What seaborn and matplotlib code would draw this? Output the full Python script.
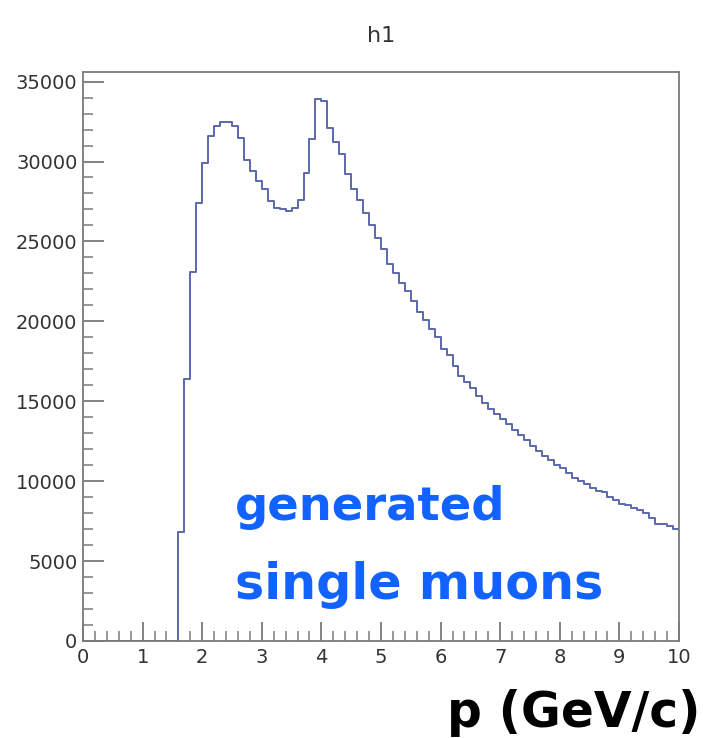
import numpy as np
import pandas as pd
import matplotlib
matplotlib.use("Agg")
import matplotlib.pyplot as plt
from matplotlib.ticker import MultipleLocator
import seaborn as sns

# ---- data ----
title = "h1"
p_low, p_high, bin_width = 0.0, 10.0, 0.1
counts_below_threshold = [0] * 16          # bins 0.0 .. 1.5
counts_peak_region = [                      # bins 1.6 .. 4.5
    6800, 16400, 23100, 27400, 29900, 31600, 32200, 32500, 32500, 32200,
    31500, 30100, 29400, 28800, 28300, 27500, 27100, 27000, 26900, 27100,
    27600, 29300, 31400, 33900, 33800, 32100, 31200, 30500, 29200, 28300,
]
counts_tail = [                             # bins 4.6 .. 9.9
    27600, 26800, 26000, 25200, 24500, 23600, 23000, 22400, 21900, 21300,
    20600, 20100, 19500, 19000, 18300, 17900, 17200, 16600, 16200, 15800,
    15300, 14900, 14500, 14200, 13900, 13600, 13200, 12900, 12600, 12200,
    11900, 11600, 11300, 11000, 10800, 10500, 10200, 10000, 9800, 9600,
    9400, 9300, 9000, 8800, 8600, 8500, 8300, 8200, 8000, 7700,
    7300, 7300, 7200, 7000,
]
x_ticks = list(range(0, 11))
y_ticks = [0, 5000, 10000, 15000, 20000, 25000, 30000, 35000]
label_text = ["generated", "single muons"]
xlabel_text = "p (GeV/c)"

counts = counts_below_threshold + counts_peak_region + counts_tail
centers = p_low + bin_width * (np.arange(len(counts)) + 0.5)
df = pd.DataFrame({"p": centers, "n": counts})

# ---- figure ----
sns.set_style("white")
plt.rcParams["font.family"] = ["DejaVu Sans"]
W, H = 703, 738
fig = plt.figure(figsize=(W / 100, H / 100), dpi=100)
ax = fig.add_axes([83 / W, 1 - 641 / H, (679 - 83) / W, (641 - 72) / H])

sns.histplot(data=df, x="p", weights="n", binwidth=bin_width,
             binrange=(p_low, p_high), element="step",
             fill=False, color="#5a68ad", linewidth=1.4, ax=ax)

ax.set_xlim(p_low, p_high)
ax.set_ylim(0, 35600)
ax.set_xticks(x_ticks)
ax.set_yticks(y_ticks)
ax.set_xticklabels([str(t) for t in x_ticks])
ax.set_yticklabels([str(t) for t in y_ticks])
ax.xaxis.set_minor_locator(MultipleLocator(0.2))
ax.yaxis.set_minor_locator(MultipleLocator(1000))
ax.set_xlabel("")
ax.set_ylabel("")

frame_col = "#7a7a7a"
for s in ax.spines.values():
    s.set_visible(True)
    s.set_color(frame_col)
    s.set_linewidth(1.3)
ax.tick_params(axis="both", which="both", direction="in", color=frame_col,
               bottom=True, left=True, top=False, right=False,
               labelcolor="#333333", labelsize=14)
ax.tick_params(axis="y", which="major", length=15, width=1.3, pad=4)
ax.tick_params(axis="y", which="minor", length=7, width=1.1)
ax.tick_params(axis="x", which="major", length=14, width=1.3, pad=5)
ax.tick_params(axis="x", which="minor", length=7, width=1.1)

fig.text(381 / W, 1 - 36 / H, title, ha="center", va="center",
         fontsize=16, color="#333333")

blue = "#1262ff"
fig.text(235 / W, 1 - 520 / H, label_text[0], ha="left", va="baseline",
         fontsize=33.5, fontweight="bold", color=blue)
fig.text(235 / W, 1 - 599 / H, label_text[1], ha="left", va="baseline",
         fontsize=35.5, fontweight="bold", color=blue)
fig.text(700 / W, 1 - 727 / H, xlabel_text, ha="right", va="baseline",
         fontsize=35, fontweight="bold", color="black")

fig.savefig("out.png", dpi=100, facecolor="white")
